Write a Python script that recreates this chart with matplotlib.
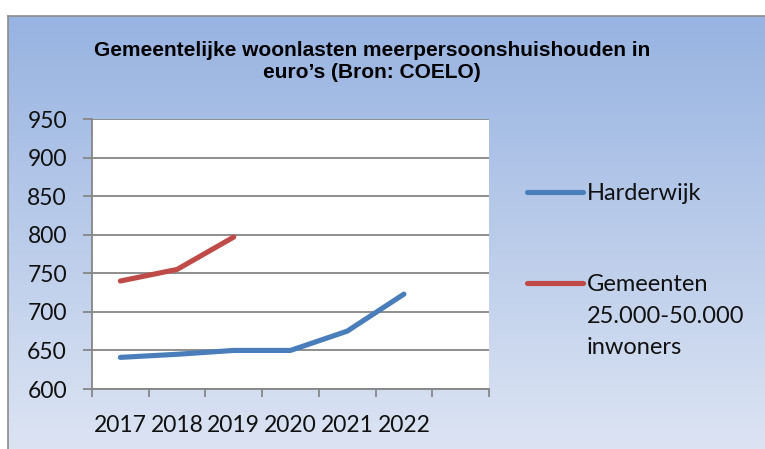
import numpy as np
import matplotlib
matplotlib.use("Agg")
import matplotlib.pyplot as plt
from matplotlib.lines import Line2D
from matplotlib.colors import LinearSegmentedColormap

years = ["2017", "2018", "2019", "2020", "2021", "2022"]
harderwijk = [641, 645, 650, 650, 675, 723]
gemeenten = [740, 755, 797, np.nan, np.nan, np.nan]
series_labels = ["Harderwijk", "Gemeenten\n25.000-50.000\ninwoners"]
title = "Gemeentelijke woonlasten meerpersoonshuishouden in\neuro\u2019s (Bron: COELO)"
yticks = [600, 650, 700, 750, 800, 850, 900, 950]

W, H = 765, 449
fig = plt.figure(figsize=(W / 100, H / 100), dpi=100)
fig.patch.set_facecolor("white")

# gradient background panel
fx0, fy1 = 8 / W, 1 - 16 / H
bg = fig.add_axes([fx0, 0, 1 - fx0, fy1])
cmap = LinearSegmentedColormap.from_list("g", ["#dce4f3", "#97b3e1"])
grad = np.linspace(0, 1, 256).reshape(-1, 1)
bg.imshow(grad, aspect="auto", cmap=cmap, origin="lower", extent=[0, 1, 0, 1])
bg.set_xlim(0, 1); bg.set_ylim(0, 1)
bg.set_xticks([]); bg.set_yticks([])
for s in ["right", "bottom"]:
    bg.spines[s].set_visible(False)
for s in ["left", "top"]:
    bg.spines[s].set_color("#8c8c8c")
    bg.spines[s].set_linewidth(1.2)

L, R, T, B = 92, 489, 119, 389
ax = fig.add_axes([L / W, 1 - B / H, (R - L) / W, (B - T) / H])
ax.set_facecolor("white")
x = np.arange(len(years))
ax.plot(x, harderwijk, color="#4a7ebb", lw=3.7, solid_capstyle="round", solid_joinstyle="round", zorder=3)
ax.plot(x, gemeenten, color="#be4b48", lw=3.7, solid_capstyle="round", solid_joinstyle="round", zorder=3)
ax.set_xlim(-0.5, len(years) + 0.5)
ax.set_ylim(600, 950)
ax.set_yticks(yticks)
ax.set_yticklabels([str(v) for v in yticks])
ax.set_xticks(x)
ax.set_xticklabels(years)
ax.set_xticks(np.arange(-0.5, len(years) + 1.0, 1.0), minor=True)
ax.tick_params(axis="x", which="major", length=0, pad=18.5)
ax.tick_params(axis="x", which="minor", length=5.8, width=1.3, color="#868686", direction="out")
ax.tick_params(axis="y", length=6.5, width=1.3, color="#868686", pad=11.5)
ax.grid(axis="y", color="#868686", lw=1.3)
ax.set_axisbelow(True)
for s in ["top", "right"]:
    ax.spines[s].set_visible(False)
for s in ["left", "bottom"]:
    ax.spines[s].set_color("#868686")
    ax.spines[s].set_linewidth(1.3)
for lab in ax.get_xticklabels() + ax.get_yticklabels():
    lab.set_family("Lato")
    lab.set_fontsize(16.5)
    lab.set_color("#111111")

fig.text(372 / W, 1 - 61.5 / H, title, ha="center", va="center", fontsize=15,
         fontweight="bold", family="Liberation Sans", linespacing=1.22)

# legend
colors = ["#4a7ebb", "#be4b48"]
ys = [192, 283]
for c, yy, lab in zip(colors, ys, series_labels):
    fig.add_artist(Line2D([527 / W, 583 / W], [1 - yy / H] * 2, color=c, lw=3.7,
                          solid_capstyle="round"))
    fig.text(587 / W, 1 - (yy - 9) / H, lab, ha="left", va="top", fontsize=17,
             family="Lato", linespacing=1.62, color="#111111")

fig.savefig("out.png", dpi=100, facecolor=fig.get_facecolor())
